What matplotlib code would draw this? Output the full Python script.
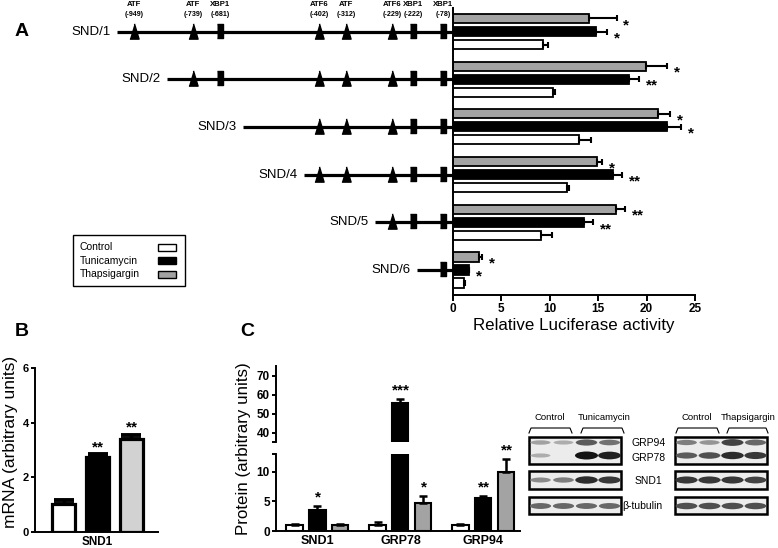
import matplotlib
matplotlib.use("Agg")
import matplotlib.pyplot as plt
from matplotlib.patches import Rectangle, Ellipse

plt.rcParams['font.family'] = ['Liberation Sans', 'DejaVu Sans']

W, H = 778, 548

# ── Panel A data ──
constructs = ["SND/1", "SND/2", "SND/3", "SND/4", "SND/5", "SND/6"]
construct_start = [117, 167, 243, 304, 375, 417]   # promoter map units
site_names = ["ATF", "ATF", "XBP1", "ATF6", "ATF", "ATF6", "XBP1", "XBP1"]
site_labels = ["(-949)", "(-739)", "(-681)", "(-402)", "(-312)", "(-229)", "(-222)", "(-78)"]
site_map = [134, 193, 220, 319, 346, 392, 413, 443]
site_kind = ["tri", "tri", "box", "tri", "tri", "tri", "box", "box"]

luc_control = [9.3, 10.35, 13.0, 11.75, 9.1, 1.1]
luc_control_err = [0.5, 0.2, 1.3, 0.25, 1.1, 0.1]
luc_tunica = [14.8, 18.2, 22.1, 16.5, 13.5, 1.65]
luc_tunica_err = [1.1, 1.0, 1.5, 1.0, 1.0, 0.05]
luc_thaps = [14.0, 19.9, 21.2, 14.9, 16.85, 2.7]
luc_thaps_err = [2.9, 2.2, 1.2, 0.5, 0.95, 0.3]
luc_tunica_sig = ["*", "**", "*", "**", "**", "*"]
luc_thaps_sig = ["*", "*", "*", "*", "**", "*"]

legend_names = ["Control", "Tunicamycin", "Thapsigargin"]

# ── Panel B data ──
mrna_groups = ["Control", "Tunicamycin", "Thapsigargin"]
mrna_vals = [1.02, 2.74, 3.4]
mrna_err = [0.15, 0.11, 0.15]
mrna_sig = ["", "**", "**"]

# ── Panel C data ──
prot_cats = ["SND1", "GRP78", "GRP94"]
prot_control = [1.0, 1.0, 1.0]
prot_control_err = [0.1, 0.6, 0.2]
prot_tunica = [3.6, 55.5, 5.65]
prot_tunica_err = [0.6, 2.2, 0.25]
prot_thaps = [1.05, 4.8, 10.0]
prot_thaps_err = [0.15, 1.1, 2.1]
prot_tunica_sig = ["*", "***", "**"]
prot_thaps_sig = ["", "*", "**"]

# western blot band intensities (4 lanes per blot)
blot_rows = ["GRP94", "GRP78", "SND1", "tub"]
blot_left = {"GRP94": [0.4, 0.35, 0.7, 0.6], "GRP78": [0.35, 0.08, 1.0, 0.95],
             "SND1": [0.5, 0.55, 0.9, 0.85], "tub": [0.65, 0.65, 0.65, 0.65]}
blot_right = {"GRP94": [0.55, 0.45, 0.8, 0.65], "GRP78": [0.7, 0.75, 0.9, 0.85],
              "SND1": [0.85, 0.85, 0.85, 0.8], "tub": [0.75, 0.75, 0.75, 0.75]}

GRAY_A = "#a3a3a3"
GRAY_B = "#d2d2d2"


def px_axes(x0, y0, x1, y1, **kw):
    return fig.add_axes([x0 / W, 1 - y1 / H, (x1 - x0) / W, (y1 - y0) / H], **kw)


fig = plt.figure(figsize=(W / 100, H / 100), dpi=100)
fig.patch.set_facecolor("white")

# overlay in pixel coordinates
ov = px_axes(0, 0, W, H)
ov.set_xlim(0, W)
ov.set_ylim(H, 0)
ov.axis("off")
ov.patch.set_visible(False)

# ──────────────────────────────────────────────
# PANEL A — bars
# ──────────────────────────────────────────────
ylimA = (5.524, -0.493)
axA = px_axes(453, 8, 695, 295)
axA.set_xlim(0, 25)
axA.set_ylim(*ylimA)
off, bh = 0.273, 0.19
yc = list(range(len(constructs)))
series = [(luc_thaps, luc_thaps_err, GRAY_A, -off, luc_thaps_sig),
          (luc_tunica, luc_tunica_err, "black", 0, luc_tunica_sig),
          (luc_control, luc_control_err, "white", off, None)]
for vals, errs, col, o, sig in series:
    ys = [y + o for y in yc]
    axA.barh(ys, vals, height=bh, color=col, edgecolor="black", linewidth=1.3, zorder=2)
    axA.errorbar(vals, ys, xerr=[[0] * len(vals), errs], fmt="none", ecolor="black",
                 elinewidth=1.5, capsize=2.5, capthick=1.5, zorder=3)
    if sig:
        for v, e, y, s in zip(vals, errs, ys, sig):
            axA.text(v + e + 0.7, y + 0.14, s, ha="left", va="center",
                     fontsize=11, fontweight="bold")
for side in ["top", "right"]:
    axA.spines[side].set_visible(False)
for side in ["left", "bottom"]:
    axA.spines[side].set_linewidth(1.4)
axA.set_yticks([])
axA.set_xticks([0, 5, 10, 15, 20, 25])
axA.tick_params(axis="x", length=4, width=1.4, labelsize=8.5, pad=2)
for t in axA.get_xticklabels():
    t.set_fontweight("bold")
axA.set_xlabel("Relative Luciferase activity", fontsize=12.2, labelpad=2)

# promoter maps
axD = px_axes(0, 8, 453, 295)
axD.set_xlim(0, 453)
axD.set_ylim(*ylimA)
axD.axis("off")
tri = [(-0.6, -1), (0.6, -1), (0, 1)]
box = [(-0.38, -1), (0.38, -1), (0.38, 1), (-0.38, 1)]
for i, (name, start) in enumerate(zip(constructs, construct_start)):
    axD.plot([start, 453], [i, i], color="black", lw=2.3, solid_capstyle="butt", zorder=1)
    axD.text(start - 6, i, name, ha="right", va="center", fontsize=9.5)
    for pos, kind in zip(site_map, site_kind):
        if pos >= start:
            axD.plot([pos], [i - 0.02], marker=tri if kind == "tri" else box,
                     markersize=11 if kind == "tri" else 9.5,
                     color="black", zorder=2, clip_on=False)
for pos, nm, lb in zip(site_map, site_names, site_labels):
    ov.text(pos, 5, nm, ha="center", va="center", fontsize=5.6, fontweight="bold")
    ov.text(pos, 15, lb, ha="center", va="center", fontsize=5.1, fontweight="bold")

ov.text(15, 31, "A", fontsize=14, fontweight="bold", va="center")
ov.text(15, 331, "B", fontsize=14, fontweight="bold", va="center")
ov.text(240, 331, "C", fontsize=14, fontweight="bold", va="center")

# legend box (labels left, swatches right)
ov.add_patch(Rectangle((73, 235), 112, 51, facecolor="white", edgecolor="black",
                       linewidth=1.0, zorder=3))
for k, (nm, col) in enumerate(zip(legend_names, ["white", "black", GRAY_A])):
    yy = 247 + 13.5 * k
    ov.text(80, yy, nm, ha="left", va="center", fontsize=7.5, zorder=4)
    ov.add_patch(Rectangle((158, yy - 3.5), 18, 7, facecolor=col, edgecolor="black",
                           linewidth=1.0, zorder=4))

# ──────────────────────────────────────────────
# PANEL B — mRNA
# ──────────────────────────────────────────────
axB = px_axes(35, 368, 158, 532)
xb = list(range(len(mrna_vals)))
axB.bar(xb, mrna_vals, width=0.68, color=["white", "black", GRAY_B],
        edgecolor="black", linewidth=2.3, zorder=2)
axB.errorbar(xb, mrna_vals, yerr=[[0] * 3, mrna_err], fmt="none", ecolor="black",
             elinewidth=2.5, capsize=7, capthick=2.8, zorder=3)
for x, v, e, s in zip(xb, mrna_vals, mrna_err, mrna_sig):
    if s:
        axB.text(x, v + e + 0.26, s, ha="center", va="center", fontsize=11, fontweight="bold")
axB.set_xlim(-0.84, 2.78)
axB.set_ylim(0, 6)
axB.set_yticks([0, 2, 4, 6])
axB.set_xticks([1])
axB.set_xticklabels(["SND1"])
for side in ["top", "right"]:
    axB.spines[side].set_visible(False)
for side in ["left", "bottom"]:
    axB.spines[side].set_linewidth(1.4)
axB.tick_params(axis="y", length=3, width=1.4, labelsize=8, pad=1.5)
axB.tick_params(axis="x", length=0, labelsize=8.5, pad=3)
for t in axB.get_xticklabels() + axB.get_yticklabels():
    t.set_fontweight("bold")
ov.text(11, 442, "mRNA (arbitrary units)", rotation=90, ha="center", va="center",
        fontsize=12.5)

# ──────────────────────────────────────────────
# PANEL C — protein (broken axis)
# ──────────────────────────────────────────────
axCl = px_axes(276, 454, 520, 531)
axCu = px_axes(276, 366, 520, 442)
offc, bwc = 0.277, 0.193
xc = list(range(len(prot_cats)))
cser = [(prot_control, prot_control_err, "white", -offc, None),
        (prot_tunica, prot_tunica_err, "black", 0, prot_tunica_sig),
        (prot_thaps, prot_thaps_err, GRAY_A, offc, prot_thaps_sig)]
for ax in (axCl, axCu):
    for vals, errs, col, o, sig in cser:
        xs = [x + o for x in xc]
        ax.bar(xs, vals, width=bwc, color=col, edgecolor="black", linewidth=1.5, zorder=2)
        ax.errorbar(xs, vals, yerr=[[0] * 3, errs], fmt="none", ecolor="black",
                    elinewidth=1.8, capsize=3.2, capthick=1.8, zorder=3)
    ax.set_xlim(-0.5, 2.44)
    for side in ["top", "right"]:
        ax.spines[side].set_visible(False)
    ax.spines["left"].set_linewidth(1.4)
    ax.tick_params(axis="y", which="both", length=3, width=1.4, labelsize=8.5, pad=1.5)
for vals, errs, col, o, sig in cser:
    if sig:
        for x, v, e, s in zip(xc, vals, errs, sig):
            if not s:
                continue
            if v > 35:
                axCu.text(x + o, v + e + 4.6, s, ha="center", va="center",
                          fontsize=11, fontweight="bold")
            else:
                axCl.text(x + o, v + e + 1.45, s, ha="center", va="center",
                          fontsize=11, fontweight="bold", clip_on=False)
axCl.set_ylim(0, 13)
axCl.set_yticks([0, 5, 10])
axCl.set_yticks([13], minor=True)
axCl.spines["bottom"].set_linewidth(1.4)
axCl.set_xticks(xc)
axCl.set_xticklabels(prot_cats)
axCl.tick_params(axis="x", length=0, labelsize=9, pad=3)
axCu.set_ylim(35, 75)
axCu.set_yticks([40, 50, 60, 70])
axCu.set_yticks([35], minor=True)
axCu.spines["bottom"].set_visible(False)
axCu.set_xticks([])
for t in axCl.get_xticklabels() + axCl.get_yticklabels() + axCu.get_yticklabels():
    t.set_fontweight("bold")
ov.text(244, 449, "Protein (arbitrary units)", rotation=90, ha="center", va="center",
        fontsize=12.2)

# ──────────────────────────────────────────────
# Western blots
# ──────────────────────────────────────────────
blot_boxes = [(437, 464), (471, 489), (497, 514)]
band_y = {"GRP94": 442.5, "GRP78": 455.5, "SND1": 480, "tub": 506}
for bx0, bx1, bands in [(529, 621, blot_left), (675, 767, blot_right)]:
    for y0, y1 in blot_boxes:
        ov.add_patch(Rectangle((bx0, y0), bx1 - bx0, y1 - y0, facecolor="#ececec",
                               edgecolor="black", linewidth=1.8, zorder=3))
    lw = (bx1 - bx0) / 4
    for row in blot_rows:
        for k, inten in enumerate(bands[row]):
            cx = bx0 + lw * (k + 0.5)
            g = 1 - 0.92 * inten
            ov.add_patch(Ellipse((cx, band_y[row]), 18 + 5 * inten, 2 + 6 * inten,
                                 facecolor=(g, g, g), edgecolor="none", zorder=4))

ov.text(632, 443, "GRP94", ha="left", va="center", fontsize=7.5)
ov.text(632, 458, "GRP78", ha="left", va="center", fontsize=7.5)
ov.text(648, 481, "SND1", ha="center", va="center", fontsize=7.5)
ov.text(622, 506, "β-tubulin", ha="left", va="center", fontsize=7.5)

for cx, lab in [(550, "Control"), (604, "Tunicamycin"), (697, "Control"), (748, "Thapsigargin")]:
    ov.text(cx, 418, lab, ha="center", va="center", fontsize=6.8)
for x0, x1 in [(529, 572), (581, 624), (676, 719), (727, 768)]:
    ov.plot([x0, x0 + 2, x1 - 2, x1], [433, 428, 428, 433], color="black", lw=0.8)

fig.savefig("out.png", dpi=100, facecolor="white")
print("out.png saved")
